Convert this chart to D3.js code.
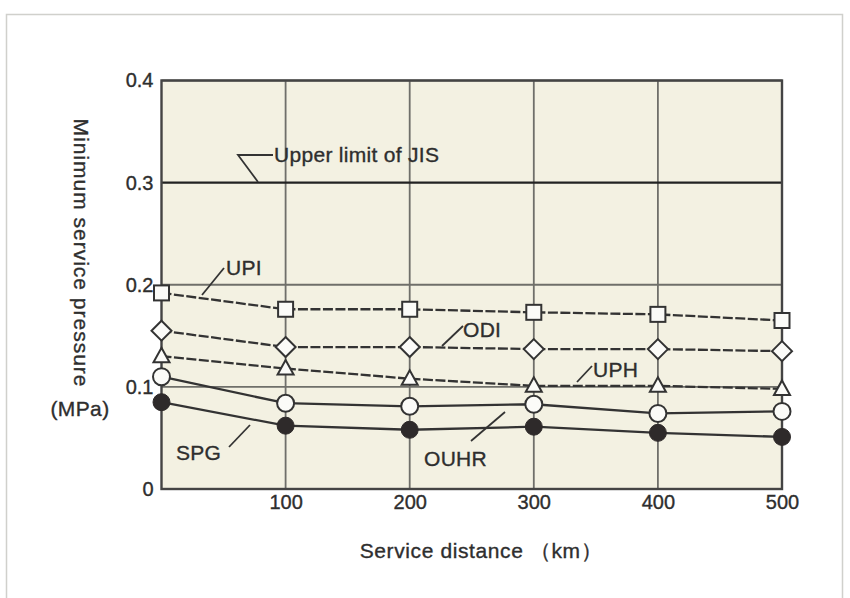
<!DOCTYPE html>
<html><head><meta charset="utf-8">
<script src="https://cdn.jsdelivr.net/npm/d3@7"></script>
<style>body{margin:0;background:#fff}svg{display:block}text{stroke:#2e2e2e;stroke-width:0.35px}</style>
</head><body><svg id="c" width="850" height="598"></svg>
<script>
const distances = [0, 100, 200, 300, 400, 500];
const upi  = [0.192, 0.176, 0.176, 0.173, 0.171, 0.165];
const odi  = [0.155, 0.139, 0.139, 0.137, 0.137, 0.135];
const uph  = [0.130, 0.118, 0.108, 0.101, 0.101, 0.098];
const ouhr = [0.110, 0.084, 0.081, 0.083, 0.074, 0.076];
const spg  = [0.085, 0.062, 0.058, 0.061, 0.055, 0.051];
const jisLimit = 0.3;
const xTicks = [100, 200, 300, 400, 500];
const yTicks = [0, 0.1, 0.2, 0.3, 0.4];
const yTickLabels = ["0", "0.1", "0.2", "0.3", "0.4"];

const series = [
  {name:"UPI", values:upi, marker:"square", dash:"10,2.5"},
  {name:"ODI", values:odi, marker:"diamond", dash:"10,2.5"},
  {name:"UPH", values:uph, marker:"triangle", dash:"10,2.5"},
  {name:"OUHR", values:ouhr, marker:"circle", dash:null},
  {name:"SPG", values:spg, marker:"dot", dash:null}
];

const svg = d3.select("#c");
const font = "'Liberation Sans', Arial, sans-serif";
const ink = "#333";
const txt = "#2e2e2e";

// faint page frame
svg.append("path").attr("d","M6.5,600 L6.5,14.5 L842.5,14.5 L842.5,600")
  .attr("fill","none").attr("stroke","#d0d0cc").attr("stroke-width",1.5);

const x = d3.scaleLinear().domain([0,500]).range([161.5,782]);
const y = d3.scaleLinear().domain([0,0.4]).range([489,80.5]);

// plot background
svg.append("rect").attr("x",x(0)).attr("y",y(0.4))
  .attr("width",x(500)-x(0)).attr("height",y(0)-y(0.4))
  .attr("fill","#f3f1e2");

// grid
const g = svg.append("g");
g.selectAll(".vg").data(xTicks).join("line")
  .attr("x1",d=>x(d)).attr("x2",d=>x(d)).attr("y1",y(0)).attr("y2",y(0.4))
  .attr("stroke","#6f6f6a").attr("stroke-width",1.8);
g.selectAll(".hg").data(yTicks.filter(d=>d>0 && d!==jisLimit)).join("line")
  .attr("x1",x(0)).attr("x2",x(500)).attr("y1",d=>y(d)).attr("y2",d=>y(d))
  .attr("stroke","#6f6f6a").attr("stroke-width",1.8);
// JIS upper limit
g.append("line").attr("x1",x(0)).attr("x2",x(500)).attr("y1",y(jisLimit)).attr("y2",y(jisLimit))
  .attr("stroke","#222").attr("stroke-width",2.4);
// frame
svg.append("rect").attr("x",x(0)).attr("y",y(0.4))
  .attr("width",x(500)-x(0)).attr("height",y(0)-y(0.4))
  .attr("fill","none").attr("stroke","#444").attr("stroke-width",2.4);

// axes (labels only)
const yAxis = d3.axisLeft(y).tickValues(yTicks).tickFormat((d,i)=>yTickLabels[i]).tickSize(0).tickPadding(8);
const ya = svg.append("g").attr("transform",`translate(${x(0)},0)`).call(yAxis);
ya.select(".domain").remove();
ya.selectAll("text").attr("font-family",font).attr("font-size",20).attr("fill",txt);

const xAxis = d3.axisBottom(x).tickValues(xTicks).tickSize(0).tickPadding(6);
const xa = svg.append("g").attr("transform",`translate(0,${y(0)})`).call(xAxis);
xa.select(".domain").remove();
xa.selectAll("text").attr("font-family",font).attr("font-size",20).attr("fill",txt);

// lines
const line = d3.line().x((d,i)=>x(distances[i])).y(d=>y(d));
series.forEach(s=>{
  svg.append("path").datum(s.values).attr("d",line)
    .attr("fill","none").attr("stroke",ink).attr("stroke-width",2.3)
    .attr("stroke-dasharray",s.dash);
});

// markers
series.forEach(s=>{
  const m = svg.append("g").selectAll("g").data(s.values).join("g")
    .attr("transform",(d,i)=>`translate(${x(distances[i])},${y(d)})`);
  const st = sel=>sel.attr("fill","#fbfbf8").attr("stroke",ink).attr("stroke-width",2);
  if(s.marker==="square") m.append("rect").attr("x",-7.5).attr("y",-7.5).attr("width",15).attr("height",15).call(st);
  if(s.marker==="diamond") m.append("path").attr("d","M0,-10L10,0L0,10L-10,0Z").call(st);
  if(s.marker==="triangle") m.append("path").attr("d","M0,-8.5L8,6L-8,6Z").call(st);
  if(s.marker==="circle") m.append("circle").attr("r",8.5).call(st);
  if(s.marker==="dot") m.append("circle").attr("r",8.5).attr("fill","#2e2a2a").attr("stroke","#2e2a2a").attr("stroke-width",1);
});

// annotations
const ann = [
  {text:"Upper limit of JIS", tx:274, ty:162, path:"M273,155 L238,155 L258,182"},
  {text:"UPI", tx:226, ty:275, path:"M224,268 L202,295"},
  {text:"ODI", tx:463, ty:337, path:"M463,326 L442,346"},
  {text:"UPH", tx:593, ty:377, path:"M592,366 L577,382"},
  {text:"OUHR", tx:424, ty:466, path:"M471,441 L505,412"},
  {text:"SPG", tx:176, ty:460, path:"M229,447 L250,425"}
];
ann.forEach(a=>{
  svg.append("path").attr("d",a.path).attr("fill","none").attr("stroke","#333").attr("stroke-width",1.8);
  svg.append("text").attr("x",a.tx).attr("y",a.ty).text(a.text)
    .attr("font-family",font).attr("font-size",21).attr("letter-spacing",0.3).attr("fill",txt);
});

// axis titles
svg.append("text").attr("transform","translate(74,253) rotate(90)")
  .attr("text-anchor","middle").attr("font-family",font).attr("font-size",21)
  .attr("letter-spacing",1).attr("fill",txt)
  .text("Minimum service pressure");
svg.append("text").attr("x",80).attr("y",416).attr("text-anchor","middle")
  .attr("font-family",font).attr("font-size",21).attr("letter-spacing",0.4).attr("fill",txt).text("(MPa)");
svg.append("text").attr("x",481).attr("y",558).attr("text-anchor","middle")
  .attr("font-family",font).attr("font-size",21).attr("letter-spacing",0.6).attr("fill",txt).text("Service distance （km）");
</script></body></html>
